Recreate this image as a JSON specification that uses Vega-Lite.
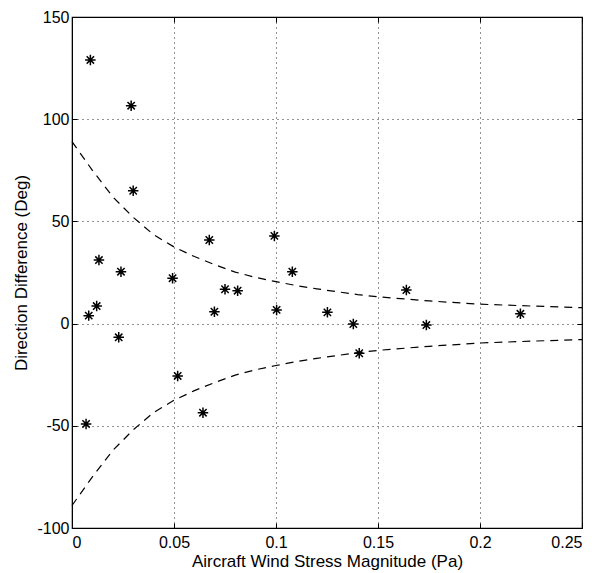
{
  "$schema": "https://vega.github.io/schema/vega-lite/v6.json",
  "width": 510,
  "height": 511,
  "autosize": "none",
  "padding": {"left": 72, "top": 17, "right": 23, "bottom": 45},
  "background": "white",
  "config": {
    "view": {"stroke": "black", "strokeWidth": 1.2},
    "font": "Liberation Sans",
    "axis": {
      "labelFont": "Liberation Sans",
      "titleFont": "Liberation Sans",
      "labelFontSize": 16,
      "titleFontSize": 17,
      "titleFontWeight": "normal",
      "labelColor": "black",
      "titleColor": "black",
      "domainColor": "black",
      "tickColor": "black",
      "tickSize": -5,
      "gridColor": "black",
      "gridDash": [1, 4],
      "gridOpacity": 0.85,
      "gridWidth": 1
    }
  },
  "datasets": {
    "pts": [
      {"stress": 0.009, "diff": 129},
      {"stress": 0.029, "diff": 106.6},
      {"stress": 0.030, "diff": 65},
      {"stress": 0.0132, "diff": 31.1},
      {"stress": 0.024, "diff": 25.4},
      {"stress": 0.0493, "diff": 22.2},
      {"stress": 0.0673, "diff": 40.9},
      {"stress": 0.0992, "diff": 42.9},
      {"stress": 0.108, "diff": 25.4},
      {"stress": 0.075, "diff": 16.8},
      {"stress": 0.0812, "diff": 16.1},
      {"stress": 0.0082, "diff": 3.9},
      {"stress": 0.0121, "diff": 8.6},
      {"stress": 0.0229, "diff": -6.7},
      {"stress": 0.0518, "diff": -25.6},
      {"stress": 0.0642, "diff": -43.6},
      {"stress": 0.0069, "diff": -49.1},
      {"stress": 0.0698, "diff": 5.8},
      {"stress": 0.1003, "diff": 6.7},
      {"stress": 0.1252, "diff": 5.5},
      {"stress": 0.1379, "diff": -0.2},
      {"stress": 0.1639, "diff": 16.4},
      {"stress": 0.1737, "diff": -0.7},
      {"stress": 0.1408, "diff": -14.5},
      {"stress": 0.2198, "diff": 4.8}
    ],
    "bounds": [
      {"stress": 0, "diff": 89, "side": "upper"},
      {"stress": 0.01, "diff": 75, "side": "upper"},
      {"stress": 0.02, "diff": 62, "side": "upper"},
      {"stress": 0.025, "diff": 57, "side": "upper"},
      {"stress": 0.03, "diff": 52, "side": "upper"},
      {"stress": 0.04, "diff": 43.5, "side": "upper"},
      {"stress": 0.05, "diff": 37.5, "side": "upper"},
      {"stress": 0.06, "diff": 32.8, "side": "upper"},
      {"stress": 0.07, "diff": 28.8, "side": "upper"},
      {"stress": 0.08, "diff": 25.2, "side": "upper"},
      {"stress": 0.09, "diff": 22.6, "side": "upper"},
      {"stress": 0.1, "diff": 20.5, "side": "upper"},
      {"stress": 0.11, "diff": 18.6, "side": "upper"},
      {"stress": 0.12, "diff": 17, "side": "upper"},
      {"stress": 0.13, "diff": 15.6, "side": "upper"},
      {"stress": 0.14, "diff": 14.2, "side": "upper"},
      {"stress": 0.15, "diff": 13.1, "side": "upper"},
      {"stress": 0.175, "diff": 11.1, "side": "upper"},
      {"stress": 0.2, "diff": 9.5, "side": "upper"},
      {"stress": 0.225, "diff": 8.6, "side": "upper"},
      {"stress": 0.25, "diff": 7.8, "side": "upper"},
      {"stress": 0, "diff": -89, "side": "lower"},
      {"stress": 0.01, "diff": -75, "side": "lower"},
      {"stress": 0.02, "diff": -62, "side": "lower"},
      {"stress": 0.025, "diff": -57, "side": "lower"},
      {"stress": 0.03, "diff": -52, "side": "lower"},
      {"stress": 0.04, "diff": -43.5, "side": "lower"},
      {"stress": 0.05, "diff": -37.5, "side": "lower"},
      {"stress": 0.06, "diff": -32.8, "side": "lower"},
      {"stress": 0.07, "diff": -28.8, "side": "lower"},
      {"stress": 0.08, "diff": -25.2, "side": "lower"},
      {"stress": 0.09, "diff": -22.6, "side": "lower"},
      {"stress": 0.1, "diff": -20.5, "side": "lower"},
      {"stress": 0.11, "diff": -18.6, "side": "lower"},
      {"stress": 0.12, "diff": -17, "side": "lower"},
      {"stress": 0.13, "diff": -15.6, "side": "lower"},
      {"stress": 0.14, "diff": -14.2, "side": "lower"},
      {"stress": 0.15, "diff": -13.1, "side": "lower"},
      {"stress": 0.175, "diff": -11.1, "side": "lower"},
      {"stress": 0.2, "diff": -9.5, "side": "lower"},
      {"stress": 0.225, "diff": -8.6, "side": "lower"},
      {"stress": 0.25, "diff": -7.8, "side": "lower"}
    ]
  },
  "layer": [
    {
      "data": {"name": "pts"},
      "mark": {
        "type": "point",
        "shape": "M-1,0L1,0M0,-1L0,1M-0.7,-0.7L0.7,0.7M-0.7,0.7L0.7,-0.7",
        "filled": false,
        "stroke": "black",
        "strokeWidth": 1.5,
        "size": 110,
        "opacity": 1
      },
      "encoding": {
        "x": {
          "field": "stress", "type": "quantitative",
          "scale": {"domain": [0, 0.25], "nice": false, "zero": false, "padding": 0},
          "axis": {"values": [0, 0.05, 0.1, 0.15, 0.2, 0.25], "labelExpr": "toString(datum.value)", "title": "Aircraft Wind Stress Magnitude (Pa)", "grid": true, "labelPadding": 11, "titlePadding": 3}
        },
        "y": {
          "field": "diff", "type": "quantitative",
          "scale": {"domain": [-100, 150], "nice": false, "zero": false, "padding": 0},
          "axis": {"values": [-100, -50, 0, 50, 100, 150], "labelExpr": "toString(datum.value)", "title": "Direction Difference (Deg)", "grid": true, "labelPadding": 8, "titlePadding": 6}
        }
      }
    },
    {
      "data": {"name": "bounds"},
      "mark": {"type": "line", "stroke": "black", "strokeWidth": 1.2, "strokeDash": [8, 6]},
      "encoding": {
        "x": {
          "field": "stress", "type": "quantitative",
          "scale": {"domain": [0, 0.25], "nice": false, "zero": false, "padding": 0},
          "axis": {"orient": "top", "values": [0, 0.05, 0.1, 0.15, 0.2, 0.25], "labels": false, "title": null, "grid": false, "domain": false}
        },
        "y": {
          "field": "diff", "type": "quantitative",
          "scale": {"domain": [-100, 150], "nice": false, "zero": false, "padding": 0},
          "axis": {"orient": "right", "values": [-100, -50, 0, 50, 100, 150], "labels": false, "title": null, "grid": false, "domain": false}
        },
        "detail": {"field": "side"}
      }
    }
  ],
  "resolve": {"scale": {"x": "independent", "y": "independent"}, "axis": {"x": "independent", "y": "independent"}}
}
